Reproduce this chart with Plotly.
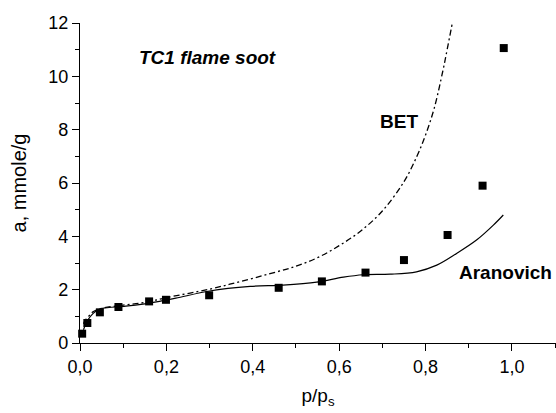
import plotly.graph_objects as go

# Experimental data (squares)
exp_x = [0.005, 0.017, 0.046, 0.089, 0.16, 0.199, 0.299, 0.46, 0.56, 0.661, 0.75, 0.851, 0.932, 0.981]
exp_y = [0.35, 0.75, 1.15, 1.35, 1.56, 1.62, 1.79, 2.07, 2.31, 2.64, 3.11, 4.05, 5.9, 11.06]

# BET model curve (dash-dot)
bet_x = [0.008, 0.012, 0.02, 0.03, 0.05, 0.1, 0.15, 0.2, 0.3, 0.37, 0.44, 0.5, 0.55, 0.6, 0.65, 0.7, 0.75, 0.78, 0.8, 0.82, 0.84, 0.85, 0.862]
bet_y = [0.72, 0.85, 1.0, 1.17, 1.3, 1.42, 1.52, 1.7, 2.02, 2.3, 2.6, 2.88, 3.2, 3.65, 4.2, 4.95, 6.05, 7.0, 7.8, 8.8, 10.2, 11.0, 12.0]

# Aranovich model curve (solid)
ara_x = [0.008, 0.018, 0.03, 0.041, 0.052, 0.106, 0.15, 0.184, 0.222, 0.3, 0.394, 0.47, 0.548, 0.61, 0.656, 0.718, 0.779, 0.826, 0.872, 0.918, 0.957, 0.98]
ara_y = [0.5, 0.86, 1.1, 1.24, 1.3, 1.38, 1.47, 1.56, 1.68, 1.95, 2.12, 2.17, 2.28, 2.47, 2.56, 2.58, 2.67, 2.92, 3.36, 3.86, 4.42, 4.8]

x_tickvals = [0.0, 0.2, 0.4, 0.6, 0.8, 1.0]
x_ticktext = ["0,0", "0,2", "0,4", "0,6", "0,8", "1,0"]
y_tickvals = [0, 2, 4, 6, 8, 10, 12]

FONT = "Liberation Sans, Arial, sans-serif"

fig = go.Figure()
fig.add_trace(go.Scatter(x=bet_x, y=bet_y, mode="lines", line=dict(color="black", width=1.3, dash="6px,3px,2px,3px", shape="spline"), showlegend=False))
fig.add_trace(go.Scatter(x=ara_x, y=ara_y, mode="lines", line=dict(color="black", width=1.2, shape="spline"), showlegend=False))
fig.add_trace(go.Scatter(x=exp_x, y=exp_y, mode="markers", marker=dict(symbol="square", size=8, color="black"), showlegend=False, cliponaxis=False))

fig.update_layout(
    width=556, height=413,
    margin=dict(l=80, r=0, t=23, b=70),
    plot_bgcolor="white", paper_bgcolor="white",
    font=dict(family=FONT, size=18, color="black"),
    xaxis=dict(range=[0, 1.102], showgrid=False, zeroline=False, showline=True, linecolor="black", linewidth=1.3,
               ticks="outside", ticklen=7, tickwidth=1.3, tickcolor="black",
               tickvals=x_tickvals, ticktext=x_ticktext,
               minor=dict(tickvals=[0.1, 0.3, 0.5, 0.7, 0.9, 1.1], ticks="outside", ticklen=4, tickwidth=1.3, tickcolor="black"),
               title=dict(text="p/p<sub>s</sub>", font=dict(size=19), standoff=12)),
    yaxis=dict(range=[0, 12], showgrid=False, zeroline=False, showline=True, linecolor="black", linewidth=1.3,
               ticks="outside", ticklen=7, tickwidth=1.3, tickcolor="black",
               tickvals=y_tickvals,
               minor=dict(tickvals=[1, 3, 5, 7, 9, 11], ticks="outside", ticklen=4, tickwidth=1.3, tickcolor="black"),
               title=dict(text="a, mmole/g", font=dict(size=20), standoff=16)),
    annotations=[
        dict(x=0.132, y=10.72, text="<b><i>TC1 flame soot</i></b>", showarrow=False, xanchor="left", yanchor="middle", font=dict(size=19)),
        dict(x=0.69, y=8.3, text="<b>BET</b>", showarrow=False, xanchor="left", yanchor="middle", font=dict(size=19)),
        dict(x=0.873, y=2.65, text="<b>Aranovich</b>", showarrow=False, xanchor="left", yanchor="middle", font=dict(size=19)),
    ],
)

fig.write_html("out.html")
